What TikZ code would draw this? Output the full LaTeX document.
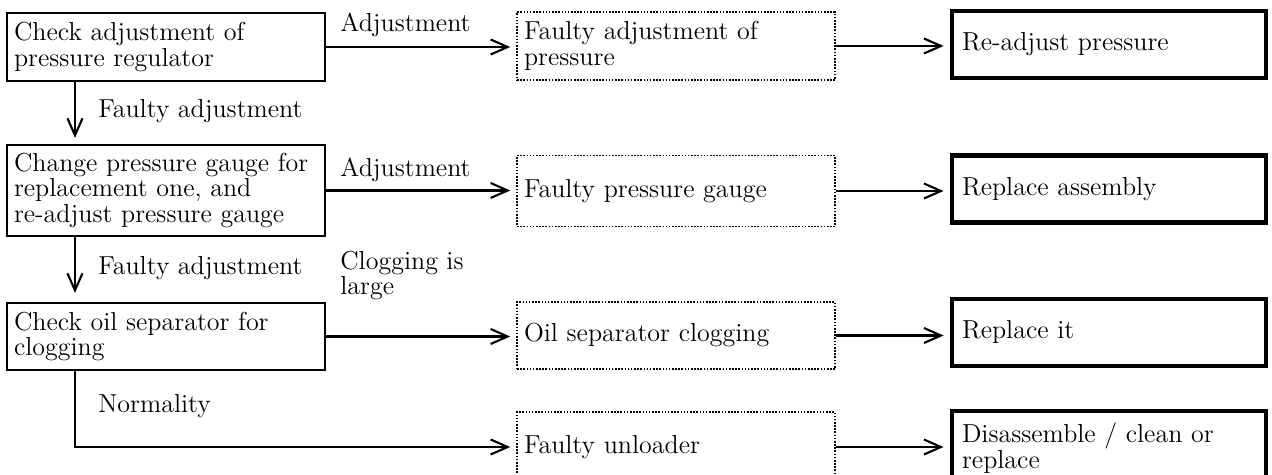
\documentclass[tikz,border=0pt]{standalone}
\usetikzlibrary{arrows.meta,calc}
\begin{document}
\begin{tikzpicture}[x=0.02cm,y=-0.02cm,
  txt/.style={font=\fontsize{14.8pt}{14.6pt}\selectfont},
  lbox/.style={txt, draw, line width=1.2pt, rectangle, inner xsep=0.14cm, inner ysep=0pt,
    text width=6.08cm, minimum width=6.36cm, align=left},
  dbox/.style={lbox, line width=0.9pt, dash pattern=on 0.9pt off 0.9pt},
  tbox/.style={txt, draw, line width=2.8pt, rectangle, inner xsep=0.2cm, inner ysep=0pt,
    text width=5.88cm, minimum width=6.28cm, align=left},
  lab/.style={txt, anchor=base west, inner sep=0pt, align=left},
  arr/.style={line width=1.2pt, -{Straight Barb[length=0.34cm,width=0.3cm,line width=1.2pt]}}
]
\useasboundingbox (0,0) rectangle (1272,475);
\clip (0,0) rectangle (1272,475);
% left column
\node[lbox, minimum height=1.36cm] (b1) at (166,47) {Check adjustment of\\pressure regulator};
\node[lbox, minimum height=1.82cm] (b2) at (166,190.5) {Change pressure gauge for\\replacement one, and\\re-adjust pressure gauge};
\node[lbox, minimum height=1.34cm] (b3) at (166,336.5) {Check oil separator for\\clogging};
% middle column
\node[dbox, minimum height=1.36cm] (d1) at (676,46) {Faulty adjustment of\\pressure};
\node[dbox, minimum height=1.42cm] (d2) at (676,191) {Faulty pressure gauge};
\node[dbox, minimum height=1.34cm] (d3) at (676,335.5) {Oil separator clogging};
\node[dbox, minimum height=1.40cm] (d4) at (676,447) {Faulty unloader};
% right column
\node[tbox, minimum height=1.34cm] (t1) at (1109,44.5) {Re-adjust pressure};
\node[tbox, minimum height=1.34cm] (t2) at (1109,189) {Replace assembly};
\node[tbox, minimum height=1.34cm] (t3) at (1109,332.5) {Replace it};
\node[tbox, minimum height=1.50cm] (t4) at (1109,448.5) {Disassemble / clean or\\replace};
% labels
\node[lab] (l1) at (340,32) {Adjustment};
\node[lab] (l2) at (340,177) {Adjustment};
\node[lab] (l3) at (340,295) {Clogging is\\large};
\node[lab] (l4) at (98,118) {Faulty adjustment};
\node[lab] (l5) at (98,275) {Faulty adjustment};
\node[lab] (l6) at (98,413) {Normality};
% vertical connectors
\coordinate (v1) at ($(b1.south west)+(69,0)$);
\coordinate (v2) at ($(b2.south west)+(69,0)$);
\coordinate (v3) at ($(b3.south west)+(69,0)$);
\draw[arr, shorten >=0.12cm] (v1) -- (v1 |- b2.north);
\draw[arr, shorten >=0.18cm] (v2) -- (v2 |- b3.north);
\draw[arr, shorten >=0.12cm] (v3) |- (d4.west);
% horizontal connectors
\draw[arr, shorten >=0.12cm] (b1.east) -- (b1.east -| d1.west);
\draw[arr, shorten >=0.12cm] (b2.east) -- (b2.east -| d2.west);
\draw[arr, shorten >=0.12cm] (b3.east) -- (b3.east -| d3.west);
\draw[arr, shorten >=0.12cm] (d1.east) -- (d1.east -| t1.west);
\draw[arr, shorten >=0.12cm] (d2.east) -- (d2.east -| t2.west);
\draw[arr, shorten >=0.12cm] (d3.east) -- (d3.east -| t3.west);
\draw[arr, shorten >=0.12cm] (d4.east) -- (d4.east -| t4.west);
\end{tikzpicture}
\end{document}
